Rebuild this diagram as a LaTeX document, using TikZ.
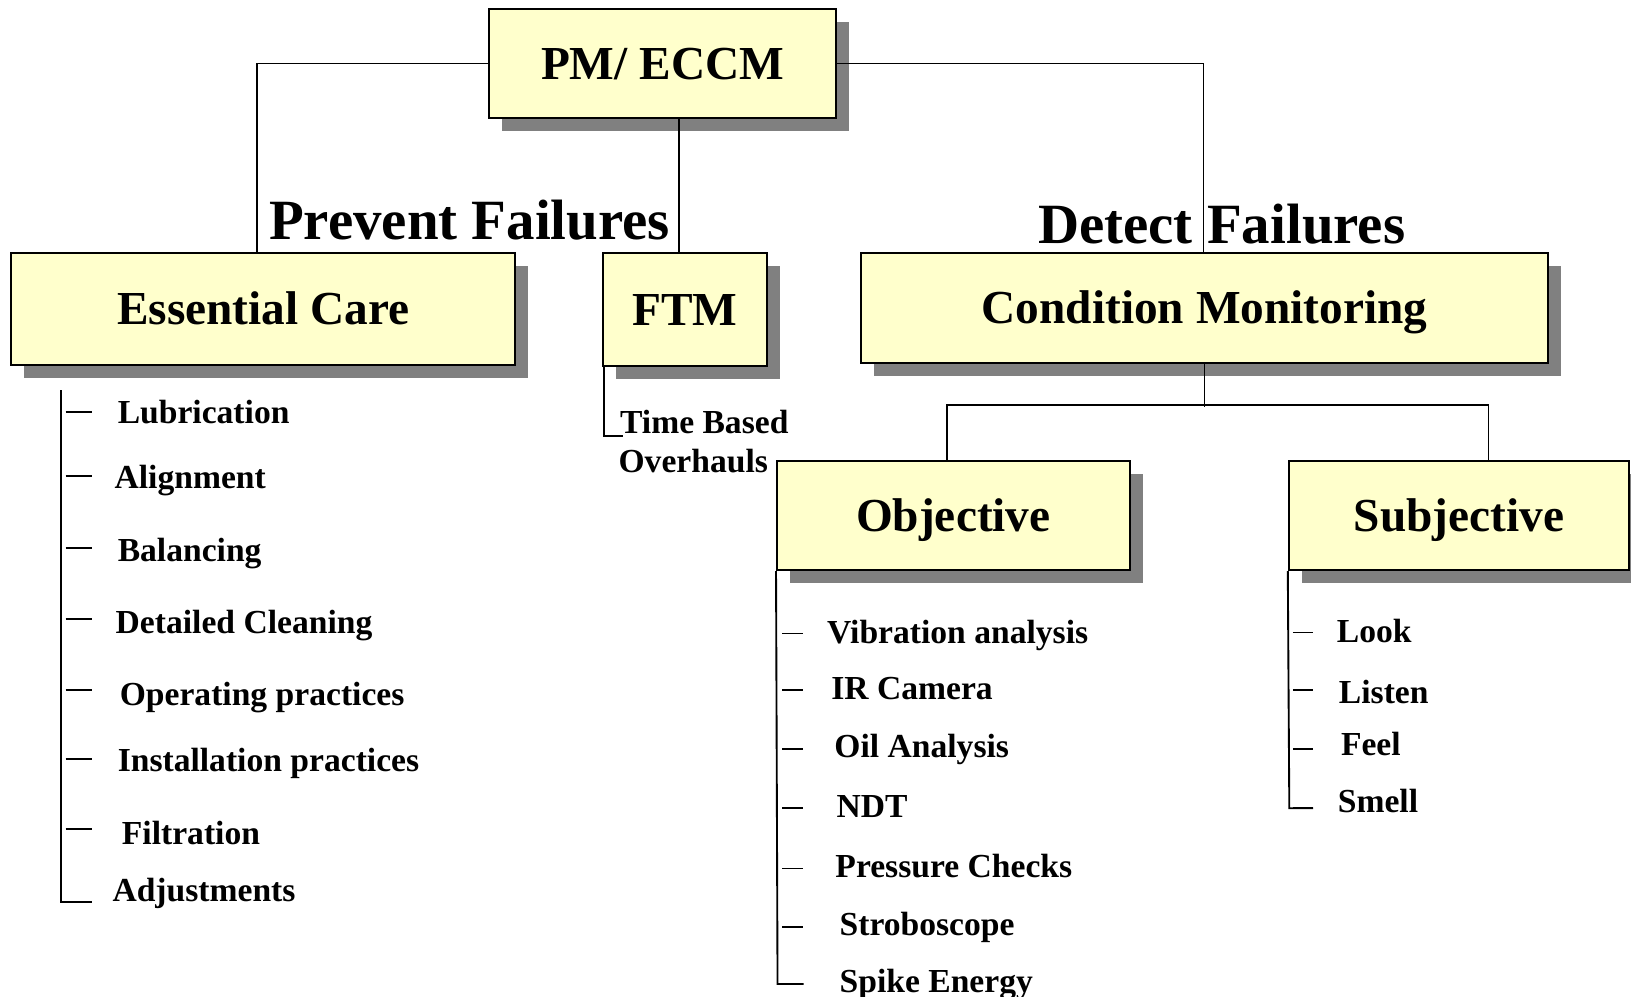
\documentclass[tikz,border=0pt]{standalone}
\usepackage{fontspec}
\setmainfont{Liberation Serif}
\usetikzlibrary{calc}
\definecolor{boxfill}{HTML}{FFFFCC}
\definecolor{shadowgray}{HTML}{808080}
\begin{document}
\begin{tikzpicture}[x=1pt,y=-1pt,
  box/.style={draw=black, line width=1.9pt, fill=boxfill, inner sep=0pt, align=center,
     font=\fontsize{45.5}{50}\selectfont\bfseries, text height=30pt, text depth=0pt,
     preaction={fill=shadowgray, transform canvas={xshift=12.5pt,yshift=-12.5pt}}},
  heading/.style={font=\fontsize{54.7}{60}\selectfont\bfseries, inner sep=0pt, anchor=base},
  item/.style={font=\fontsize{32.3}{36}\selectfont\bfseries, inner sep=0pt, anchor=base west},
  conn/.style={line width=1.8pt, black},
]
\useasboundingbox (0,0) rectangle (1568,958);

% boxes
\node[box, minimum width=334pt, minimum height=105pt] (pm) at (637,61) {PM/ ECCM};
\node[box, minimum width=484pt, minimum height=108pt] (ec) at (253,297) {Essential Care};
\node[box, minimum width=157pt, minimum height=108pt] (ftm) at (658.5,297.5) {FTM};
\node[box, minimum width=660pt, minimum height=106pt] (cm) at (1158,296) {Condition Monitoring};
\node[box, minimum width=339pt, minimum height=105pt] (obj) at (916.5,495.5) {Objective};
\node[box, minimum width=327pt, minimum height=105pt] (subj) at (1402.5,495.5) {Subjective};

% headings
\node[heading] (pf) at (451.5,230) {Prevent Failures};
\node[heading] (df) at (1174.5,234) {Detect Failures};

% top connectors
\draw[conn] (pm.west) -| ($(ec.north)+(-6,0)$);
\draw[conn] (pm.east) -| ($(cm.north)+(-1,0)$);
\path ($(ftm.north)+(-5.5,0)$) coordinate (ftmtop);
\draw[conn] (ftmtop) -- (ftmtop |- pm.south);

% condition monitoring split
\draw[conn] (cm.south) -- ++(0,41) coordinate (cmbar);
\draw[conn] ($(obj.north)+(-6.5,0)$) |- ($(subj.north)+(28.5,-53)$) -- ($(subj.north)+(28.5,0)$);

% FTM item
\node[item] (tb) at (596,417) {Time Based};
\node[item] (oh) at (594.5,454) {Overhauls};
\draw[conn] ($(ftm.south west)+(2,0)$) |- ($(tb.base west)+(3,2)$);

% Essential care list
\coordinate (ectop) at (59,375);
\coordinate (ecbot) at (59,867);
\draw[conn] (ectop) -- (ecbot) -- ++(29,0);
\foreach \n/\t/\x/\b/\k in {lub/Lubrication/113/407/396,
    ali/Alignment/110/470/458,
    bal/Balancing/113/540/527,
    det/Detailed Cleaning/111/609.5/595,
    ope/Operating practices/115/678/663,
    ins/Installation practices/113/742/730,
    fil/Filtration/117/812/797,
    adj/Adjustments/108/867/867}{
  \node[item] (\n) at (\x,\b) {\t};
  \draw[conn] (63,\k) -- (88,\k);
}

% Objective list
\coordinate (objbot) at (747.5,946);
\draw[conn] (obj.south west) -- (objbot) -- ++(25,0);
\foreach \n/\t/\x/\b/\k in {vib/Vibration analysis/795/619/609,
    irc/IR Camera/799/672/663,
    oil/Oil Analysis/802/728/720,
    ndt/NDT/804/786/777,
    prs/Pressure Checks/803/844/835,
    stb/Stroboscope/807/899/891,
    spk/Spike Energy/807/954/946}{
  \node[item] (\n) at (\x,\b) {\t};
  \draw[conn] (752,\k) -- (772,\k);
}

% Subjective list
\coordinate (subbot) at (1239.5,777);
\draw[conn] (subj.south west) -- (subbot) -- ++(23,0);
\foreach \n/\t/\x/\b/\k in {look/Look/1285/618/608,
    lis/Listen/1287/676/663,
    feel/Feel/1289/726/720,
    sme/Smell/1286/781/777}{
  \node[item] (\n) at (\x,\b) {\t};
  \draw[conn] (1243,\k) -- (1262,\k);
}
\end{tikzpicture}
\end{document}
